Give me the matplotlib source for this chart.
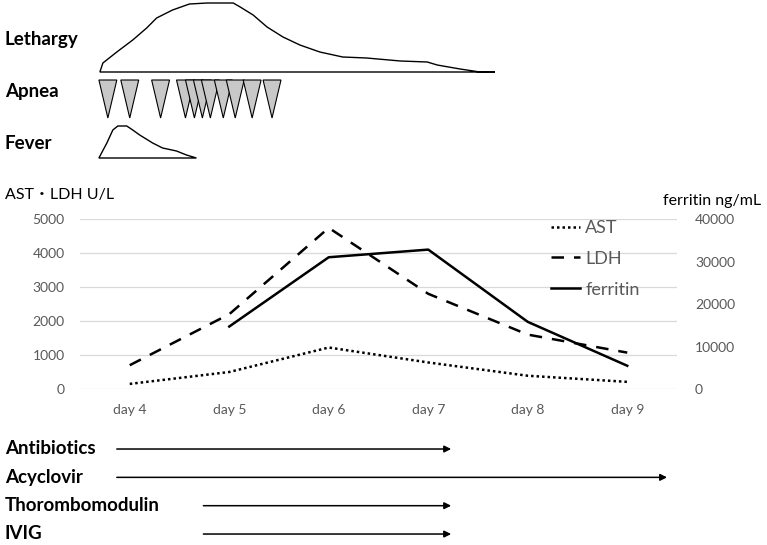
import matplotlib
matplotlib.use("Agg")
import matplotlib.pyplot as plt
import numpy as np
from matplotlib.patches import Polygon

plt.rcParams['font.family'] = ['Lato', 'Noto Sans CJK JP', 'DejaVu Sans']

# ---------------- data ----------------
days = [4, 5, 6, 7, 8, 9]
day_labels = ["day 4", "day 5", "day 6", "day 7", "day 8", "day 9"]
ast = [150, 500, 1220, 780, 390, 210]
ldh = [700, 2200, 4740, 2800, 1600, 1070]
ferritin = [np.nan, 14700, 31000, 32800, 15800, 5470]

left_ticks = [0, 1000, 2000, 3000, 4000, 5000]
right_ticks = [0, 10000, 20000, 30000, 40000]

# symptom curves (x in days, intensity in arbitrary units)
lethargy_x = [3.70, 3.73, 3.87, 4.03, 4.17, 4.27, 4.43, 4.60, 4.78, 5.04, 5.11,
              5.24, 5.38, 5.54, 5.71, 5.91, 6.14, 6.38, 6.72, 6.99, 7.09, 7.32,
              7.52, 7.67]
lethargy_y = [0, 9, 20, 32, 44, 54, 62, 68, 69, 69, 65, 57, 45, 35, 27, 20, 15,
              14, 11, 10, 7, 3, 0, 0]
fever_x = [3.69, 3.77, 3.83, 3.88, 3.97, 4.03, 4.10, 4.23, 4.33, 4.47, 4.57, 4.67]
fever_y = [0, 15, 28, 32, 32, 28, 23, 15, 10, 7, 3, 0]
apnea_x = [3.78, 4.00, 4.31, 4.56, 4.65, 4.73, 4.81, 4.94, 5.06, 5.23, 5.43]

treatments = ["Antibiotics", "Acyclovir", "Thorombomodulin", "IVIG"]
treat_start = [3.87, 3.87, 4.74, 4.74]
treat_end = [7.23, 9.40, 7.23, 7.23]

# ---------------- figure ----------------
W, H = 767, 545
fig = plt.figure(figsize=(W / 100, H / 100), dpi=100)

def fx(px):
    return px / W

def fy(py):
    return 1 - py / H

XL = (3.5, 9.5)
ax_left = fx(80)
ax_w = fx(677) - fx(80)

# main chart
ax = fig.add_axes([ax_left, fy(389), ax_w, fy(219) - fy(389)])
ax.set_xlim(*XL)
ax.set_ylim(0, 5000)
for s in ax.spines.values():
    s.set_visible(False)
ax.set_yticks(left_ticks)
ax.set_xticks(days)
ax.set_xticklabels(day_labels)
ax.tick_params(axis='both', length=0, colors='#595959', labelsize=10)
ax.tick_params(axis='y', pad=11)
ax.tick_params(axis='x', pad=11)
ax.grid(axis='y', color='#d9d9d9', lw=0.9)
ax.set_axisbelow(True)

ax2 = ax.twinx()
ax2.set_ylim(0, 40000)
for s in ax2.spines.values():
    s.set_visible(False)
ax2.set_yticks(right_ticks)
ax2.tick_params(axis='y', length=0, colors='#595959', labelsize=10, pad=13)

l1, = ax.plot(days, ast, color='black', lw=1.8, linestyle=(0, (1, 1.2)), label='AST')
l2, = ax.plot(days, ldh, color='black', lw=1.8, linestyle=(0, (5, 4)), label='LDH')
l3, = ax2.plot(days, ferritin, color='black', lw=1.8, linestyle='-', label='ferritin')

leg = fig.legend(handles=[l1, l2, l3], loc='upper left',
                 bbox_to_anchor=(fx(551), fy(220)), bbox_transform=fig.transFigure,
                 frameon=False, fontsize=13, handlelength=1.6, handletextpad=0.3,
                 labelspacing=0.82, borderpad=0, borderaxespad=0)
for t in leg.get_texts():
    t.set_color('#595959')

fig.text(fx(5), fy(195), "AST・LDH U/L", fontsize=11.5, va='center', ha='left')
fig.text(fx(663), fy(201), "ferritin ng/mL", fontsize=11.5, va='center', ha='left')

# symptom panels
def blank(a):
    a.set_xlim(*XL)
    a.axis('off')

ax_l = fig.add_axes([ax_left, fy(72), ax_w, fy(0) - fy(72)])
blank(ax_l)
ax_l.set_ylim(0, 72)
ax_l.add_patch(Polygon(np.column_stack([lethargy_x, lethargy_y]), closed=True,
                       facecolor='white', edgecolor='black', lw=1.0, clip_on=False))

ax_a = fig.add_axes([ax_left, fy(118), ax_w, fy(80) - fy(118)])
blank(ax_a)
ax_a.set_ylim(0, 1)
hw = 0.09
for xa in apnea_x:
    ax_a.add_patch(Polygon([[xa - hw, 1], [xa + hw, 1], [xa, 0]], closed=True,
                           facecolor='#c8c8c8', edgecolor='black', lw=0.8,
                           clip_on=False))

ax_f = fig.add_axes([ax_left, fy(158), ax_w, fy(123) - fy(158)])
blank(ax_f)
ax_f.set_ylim(0, 35)
ax_f.add_patch(Polygon(np.column_stack([fever_x, fever_y]), closed=True,
                       facecolor='white', edgecolor='black', lw=1.0, clip_on=False))

sym_labels = ["Lethargy", "Apnea", "Fever"]
sym_y = [40, 91, 143]
for lab, yy in zip(sym_labels, sym_y):
    fig.text(fx(5), fy(yy), lab, fontsize=13.5, fontweight='bold', va='center', ha='left')

# treatment panel
ax_t = fig.add_axes([ax_left, fy(548.2), ax_w, fy(434.85) - fy(548.2)])
blank(ax_t)
ax_t.set_ylim(len(treatments) - 0.5, -0.5)
for i, (name, s, e) in enumerate(zip(treatments, treat_start, treat_end)):
    ax_t.annotate("", xy=(e, i), xytext=(s, i),
                  arrowprops=dict(arrowstyle='-|>', color='black', lw=1.1,
                                  mutation_scale=10, shrinkA=0, shrinkB=0),
                  annotation_clip=False)
    fig.text(fx(5), fy(449 + 28.3 * i), name, fontsize=13.5, fontweight='bold',
             va='center', ha='left')

fig.savefig("out.png", dpi=100)
